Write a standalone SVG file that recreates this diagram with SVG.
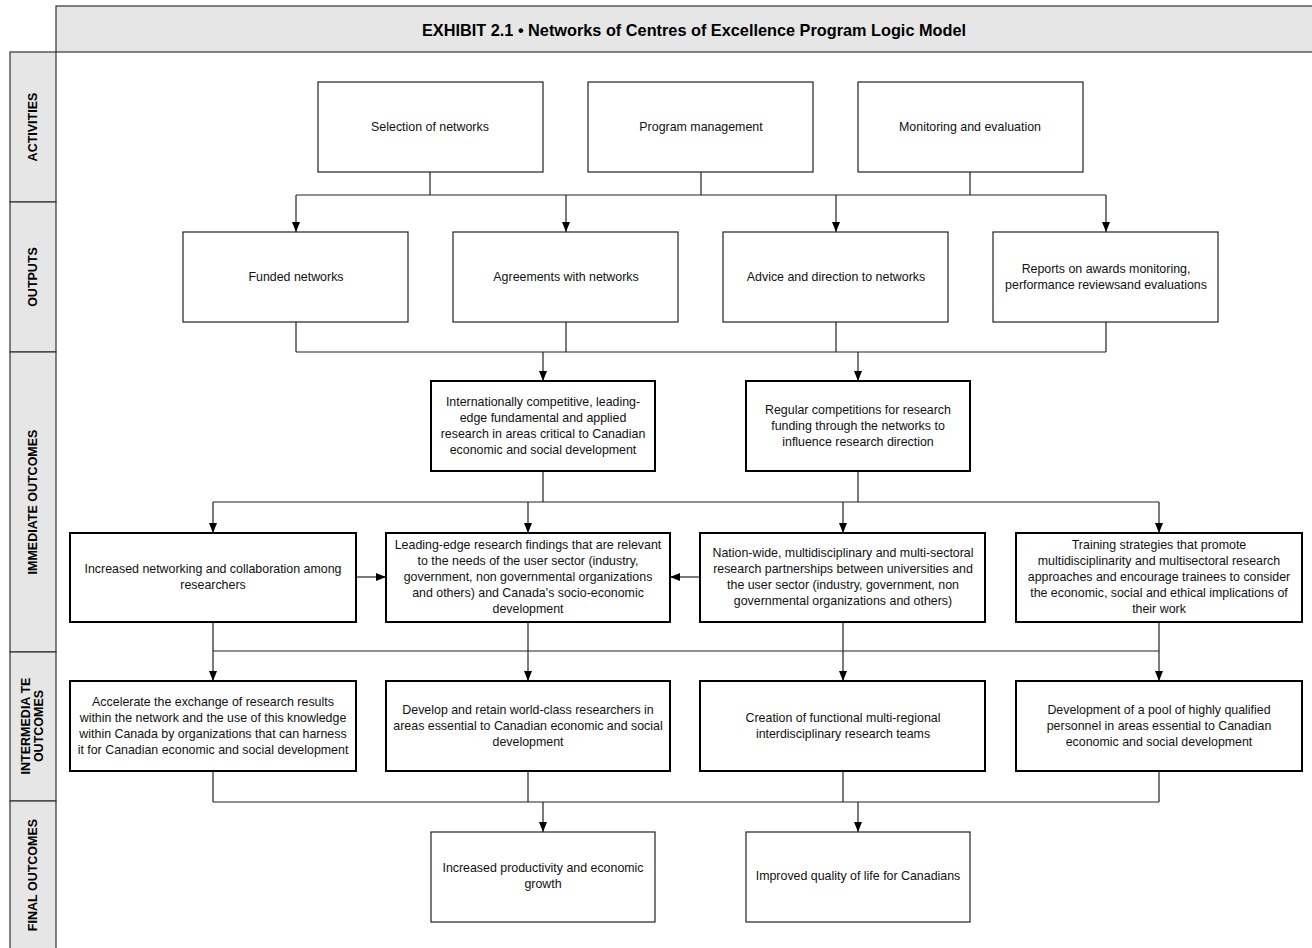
<svg xmlns="http://www.w3.org/2000/svg" width="1312" height="948" viewBox="0 0 1312 948">
<defs>
<marker id="arr" viewBox="0 0 10 8" refX="10" refY="4" markerWidth="10" markerHeight="8" markerUnits="userSpaceOnUse" orient="auto">
<path d="M0,0 L10,4 L0,8 z" fill="#000"/>
</marker>
<style>
.t{font-family:"Liberation Sans Narrow","Arial Narrow","Liberation Sans",sans-serif;font-size:12.4px;fill:#111;text-anchor:middle}
.title{font-family:"Liberation Sans Narrow","Arial Narrow","Liberation Sans",sans-serif;font-size:16.3px;font-weight:bold;fill:#000;text-anchor:middle}
.lab{font-family:"Liberation Sans Narrow","Arial Narrow","Liberation Sans",sans-serif;font-size:12.5px;font-weight:bold;fill:#000;text-anchor:middle}
.band{fill:#e6e6e6;stroke:#333;stroke-width:1.2}
.thin{fill:#fff;stroke:#222;stroke-width:1.2}
.thick{fill:#fff;stroke:#000;stroke-width:2}
.c{fill:none;stroke:#222;stroke-width:1.2}
.a{fill:none;stroke:#222;stroke-width:1.2;marker-end:url(#arr)}
</style>
</defs>
<rect width="1312" height="948" fill="#fff"/>
<g id="frame">
<rect class="band" x="56" y="6" width="1262" height="46"/>
<text class="title" x="694" y="36">EXHIBIT 2.1 • Networks of Centres of Excellence Program Logic Model</text>
<rect class="band" x="10" y="52" width="46" height="150"/>
<rect class="band" x="10" y="202" width="46" height="150"/>
<rect class="band" x="10" y="352" width="46" height="300"/>
<rect class="band" x="10" y="652" width="46" height="149"/>
<rect class="band" x="10" y="801" width="46" height="150"/>
<text class="lab" transform="translate(37,127) rotate(-90)">ACTIVITIES</text>
<text class="lab" transform="translate(37,277) rotate(-90)">OUTPUTS</text>
<text class="lab" transform="translate(37,502) rotate(-90)">IMMEDIATE OUTCOMES</text>
<text class="lab" transform="translate(30,726) rotate(-90)">INTERMEDIA TE</text>
<text class="lab" transform="translate(43,726) rotate(-90)">OUTCOMES</text>
<text class="lab" transform="translate(37,875) rotate(-90)">FINAL OUTCOMES</text>
</g>
<g id="connectors">
<path class="c" d="M430,172 V195 M701,172 V195 M970,172 V195 M296,195 H1106"/>
<path class="a" d="M296,195 V232"/>
<path class="a" d="M566,195 V232"/>
<path class="a" d="M836,195 V232"/>
<path class="a" d="M1106,195 V232"/>
<path class="c" d="M296,322 V352 M566,322 V352 M836,322 V352 M1106,322 V352 M296,352 H1106"/>
<path class="a" d="M543,352 V381"/>
<path class="a" d="M858,352 V381"/>
<path class="c" d="M543,471 V502 M858,471 V502 M213,502 H1159"/>
<path class="a" d="M213,502 V533"/>
<path class="a" d="M528,502 V533"/>
<path class="a" d="M843,502 V533"/>
<path class="a" d="M1159,502 V533"/>
<path class="a" d="M356,577 H386"/>
<path class="a" d="M700,577 H670"/>
<path class="c" d="M213,622 V651 M528,622 V651 M843,622 V651 M1159,622 V651 M213,651 H1159"/>
<path class="a" d="M213,651 V681"/>
<path class="a" d="M528,651 V681"/>
<path class="a" d="M843,651 V681"/>
<path class="a" d="M1159,651 V681"/>
<path class="c" d="M213,771 V802 M528,771 V802 M843,771 V802 M1159,771 V802 M213,802 H1159"/>
<path class="a" d="M543,802 V832"/>
<path class="a" d="M858,802 V832"/>
</g>
<g id="act1"><rect class="thin" x="318" y="82" width="225" height="90"/><text class="t" x="430" y="131">Selection of networks</text></g>
<g id="act2"><rect class="thin" x="588" y="82" width="225" height="90"/><text class="t" x="701" y="131">Program management</text></g>
<g id="act3"><rect class="thin" x="858" y="82" width="225" height="90"/><text class="t" x="970" y="131">Monitoring and evaluation</text></g>
<g id="out1"><rect class="thin" x="183" y="232" width="225" height="90"/><text class="t" x="296" y="281">Funded networks</text></g>
<g id="out2"><rect class="thin" x="453" y="232" width="225" height="90"/><text class="t" x="566" y="281">Agreements with networks</text></g>
<g id="out3"><rect class="thin" x="723" y="232" width="225" height="90"/><text class="t" x="836" y="281">Advice and direction to networks</text></g>
<g id="out4"><rect class="thin" x="993" y="232" width="225" height="90"/><text class="t" x="1106" y="273">Reports on awards monitoring,</text><text class="t" x="1106" y="289">performance reviewsand evaluations</text></g>
<g id="imm1"><rect class="thick" x="431" y="381" width="224" height="90"/>
<text class="t" x="543" y="406">Internationally competitive, leading-</text>
<text class="t" x="543" y="422">edge fundamental and applied</text>
<text class="t" x="543" y="438">research in areas critical to Canadian</text>
<text class="t" x="543" y="454">economic and social development</text></g>
<g id="imm2"><rect class="thick" x="746" y="381" width="224" height="90"/>
<text class="t" x="858" y="414">Regular competitions for research</text>
<text class="t" x="858" y="430">funding through the networks to</text>
<text class="t" x="858" y="446">influence research direction</text></g>
<g id="imm3"><rect class="thick" x="70" y="533" width="286" height="89"/>
<text class="t" x="213" y="573">Increased networking and collaboration among</text>
<text class="t" x="213" y="589">researchers</text></g>
<g id="imm4"><rect class="thick" x="386" y="533" width="284" height="89"/>
<text class="t" x="528" y="549">Leading-edge research findings that are relevant</text>
<text class="t" x="528" y="565">to the needs of the user sector (industry,</text>
<text class="t" x="528" y="581">government, non governmental organizations</text>
<text class="t" x="528" y="597">and others) and Canada's socio-economic</text>
<text class="t" x="528" y="613">development</text></g>
<g id="imm5"><rect class="thick" x="700" y="533" width="285" height="89"/>
<text class="t" x="843" y="557">Nation-wide, multidisciplinary and multi-sectoral</text>
<text class="t" x="843" y="573">research partnerships between universities and</text>
<text class="t" x="843" y="589">the user sector (industry, government, non</text>
<text class="t" x="843" y="605">governmental organizations and others)</text></g>
<g id="imm6"><rect class="thick" x="1016" y="533" width="286" height="89"/>
<text class="t" x="1159" y="549">Training strategies that promote</text>
<text class="t" x="1159" y="565">multidisciplinarity and multisectoral research</text>
<text class="t" x="1159" y="581">approaches and encourage trainees to consider</text>
<text class="t" x="1159" y="597">the economic, social and ethical implications of</text>
<text class="t" x="1159" y="613">their work</text></g>
<g id="int1"><rect class="thick" x="70" y="681" width="286" height="90"/>
<text class="t" x="213" y="706">Accelerate the exchange of research results</text>
<text class="t" x="213" y="722">within the network and the use of this knowledge</text>
<text class="t" x="213" y="738">within Canada by organizations that can harness</text>
<text class="t" x="213" y="754">it for Canadian economic and social development</text></g>
<g id="int2"><rect class="thick" x="386" y="681" width="284" height="90"/>
<text class="t" x="528" y="714">Develop and retain world-class researchers in</text>
<text class="t" x="528" y="730">areas essential to Canadian economic and social</text>
<text class="t" x="528" y="746">development</text></g>
<g id="int3"><rect class="thick" x="700" y="681" width="285" height="90"/>
<text class="t" x="843" y="722">Creation of functional multi-regional</text>
<text class="t" x="843" y="738">interdisciplinary research teams</text></g>
<g id="int4"><rect class="thick" x="1016" y="681" width="286" height="90"/>
<text class="t" x="1159" y="714">Development of a pool of highly qualified</text>
<text class="t" x="1159" y="730">personnel in areas essential to Canadian</text>
<text class="t" x="1159" y="746">economic and social development</text></g>
<g id="fin1"><rect class="thin" x="431" y="832" width="224" height="90"/>
<text class="t" x="543" y="872">Increased productivity and economic</text>
<text class="t" x="543" y="888">growth</text></g>
<g id="fin2"><rect class="thin" x="746" y="832" width="224" height="90"/>
<text class="t" x="858" y="880">Improved quality of life for Canadians</text></g>
</svg>
